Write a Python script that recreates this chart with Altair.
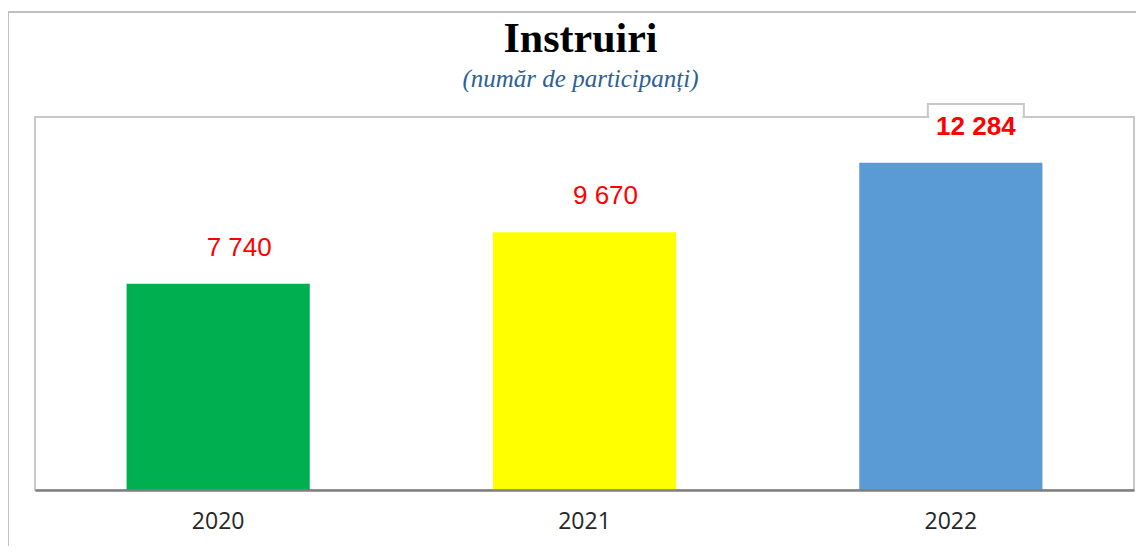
import altair as alt
import pandas as pd

years = ["2020", "2021", "2022"]
participants = [7740, 9670, 12284]
bar_colors = ["#00b050", "#ffff00", "#5b9bd5"]

df = pd.DataFrame({"year": years, "value": participants})
df["label"] = df["value"].map(lambda v: f"{v:,}".replace(",", " "))

W, H = 1099, 373

x = alt.X("year:N", sort=years,
          scale=alt.Scale(paddingInner=0.5, paddingOuter=0.25),
          axis=alt.Axis(title=None, labelAngle=0, ticks=False, domain=True,
                        domainColor="#7f7f7f", domainWidth=2.5, zindex=1,
                        labelFont="Open Sans", labelFontSize=23,
                        labelColor="#262626", labelPadding=20))
y = alt.Y("value:Q", scale=alt.Scale(domain=[0, 14000]), axis=None)

base = alt.Chart(df)

outer = base.mark_rect(fill=None, stroke="#c0c0c0", strokeWidth=2).encode(
    x=alt.value(-27), x2=alt.value(W + 40), y=alt.value(-105), y2=alt.value(H + 80)
).transform_filter(alt.datum.year == years[0])

frame = base.mark_rect(fill="white", stroke="#c8c8c8", strokeWidth=2).encode(
    x=alt.value(0), x2=alt.value(W), y=alt.value(0), y2=alt.value(H)
).transform_filter(alt.datum.year == years[0])

bars = base.mark_bar().encode(
    x=x, y=y,
    color=alt.Color("year:N", scale=alt.Scale(domain=years, range=bar_colors), legend=None),
)

top_year = years[participants.index(max(participants))]

box = base.mark_bar(width=96, xOffset=25, fill="white", stroke="#c8c8c8", strokeWidth=2).encode(
    x=x, y=alt.value(-13), y2=alt.value(0)
).transform_filter(alt.datum.year == top_year)

cover = base.mark_bar(width=93, xOffset=25, fill="white", strokeWidth=0).encode(
    x=x, y=alt.value(-11), y2=alt.value(3)
).transform_filter(alt.datum.year == top_year)

labels = base.mark_text(font="Liberation Sans", fontSize=26, color="#ff0000",
                        dx=21, dy=-36, baseline="middle").encode(
    x=x, y=y, text="label:N"
).transform_filter(alt.datum.year != top_year)

labels_top = base.mark_text(font="Liberation Sans", fontSize=26, fontWeight="bold",
                            color="#ff0000", dx=25, dy=-36, baseline="middle").encode(
    x=x, y=y, text="label:N"
).transform_filter(alt.datum.year == top_year)

chart = alt.layer(outer, frame, bars, box, cover, labels, labels_top).properties(
    width=W, height=H,
    title=alt.TitleParams(
        text="Instruiri",
        subtitle="(număr de participanți)",
        font="Liberation Serif", fontSize=42, fontWeight="bold", color="#000000",
        subtitleFont="Liberation Serif", subtitleFontSize=25, subtitleFontStyle="italic",
        subtitleColor="#2e6096", subtitlePadding=6,
        anchor="middle", frame="group", offset=22, dx=-4, dy=104,
    ),
    autosize=alt.AutoSizeParams(type="none"),
    padding={"left": 27, "top": 109, "right": 2, "bottom": 56},
).configure_view(stroke=None).configure(background="white")

chart.save("out.html", embed_options={"renderer": "svg", "actions": False})
